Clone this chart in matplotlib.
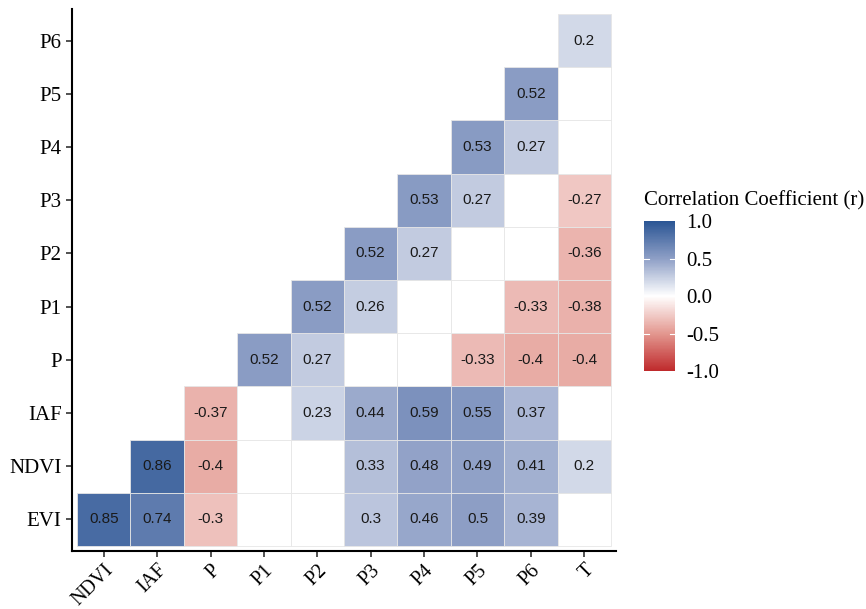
import matplotlib
matplotlib.use("Agg")
import matplotlib.pyplot as plt
from matplotlib.patches import Rectangle
from matplotlib.colors import LinearSegmentedColormap, Normalize
from matplotlib.colorbar import ColorbarBase

# variables on each axis
x_labels = ["NDVI", "IAF", "P", "P1", "P2", "P3", "P4", "P5", "P6", "T"]
y_labels = ["EVI", "NDVI", "IAF", "P", "P1", "P2", "P3", "P4", "P5", "P6"]

# significant r per row, starting at the diagonal (None = not significant)
r_evi = [0.85, 0.74, -0.3, None, None, 0.3, 0.46, 0.5, 0.39, None]
r_ndvi = [0.86, -0.4, None, None, 0.33, 0.48, 0.49, 0.41, 0.2]
r_iaf = [-0.37, None, 0.23, 0.44, 0.59, 0.55, 0.37, None]
r_p = [0.52, 0.27, None, None, -0.33, -0.4, -0.4]
r_p1 = [0.52, 0.26, None, None, -0.33, -0.38]
r_p2 = [0.52, 0.27, None, None, -0.36]
r_p3 = [0.53, 0.27, None, -0.27]
r_p4 = [0.53, 0.27, None]
r_p5 = [0.52, None]
r_p6 = [0.2]
rows = [r_evi, r_ndvi, r_iaf, r_p, r_p1, r_p2, r_p3, r_p4, r_p5, r_p6]

n = len(x_labels)
# red - white - blue, with in-between stops so the halves look like a Lab blend
cmap = LinearSegmentedColormap.from_list(
    "rwb", [(0.0, "#BF2A2C"), (0.25, "#E39890"), (0.5, "#FFFFFF"),
            (0.75, "#8E9FC6"), (1.0, "#2A5594")])
norm = Normalize(-1, 1)

fig = plt.figure(figsize=(8.66, 6.09), dpi=100)
ax = fig.add_axes([0.0831, 0.0952, 0.6282, 0.8900])

# tiles of the lower triangle; non-significant ones stay white
for i, row in enumerate(rows):
    for k, v in enumerate(row):
        x = i + k
        col = "white" if v is None else cmap(norm(v))
        ax.add_patch(Rectangle((x - 0.5, i - 0.5), 1, 1, facecolor=col,
                               edgecolor="#E6E6E6", linewidth=0.6))
        if v is not None:
            ax.text(x, i, f"{v:g}", ha="center", va="center",
                    fontsize=11, color="#1a1a1a", family="Liberation Sans")

pad = 0.095
ax.set_xlim(-0.5 - pad, n - 0.5 + pad)
ax.set_ylim(-0.5 - pad, n - 0.5 + pad)
ax.set_xticks(range(n))
ax.set_yticks(range(n))
ax.set_xticklabels(x_labels, rotation=45, ha="right", rotation_mode="anchor",
                   family="Liberation Serif", fontsize=14.5)
ax.set_yticklabels(y_labels, family="Liberation Serif", fontsize=15)
ax.tick_params(length=4, width=1.2, color="#333333")
ax.tick_params(axis="x", pad=3)
for s in ["top", "right"]:
    ax.spines[s].set_visible(False)
for s in ["left", "bottom"]:
    ax.spines[s].set_linewidth(1.5)

# legend bar
cax = fig.add_axes([0.7436, 0.3908, 0.0358, 0.2463])
cb = ColorbarBase(cax, cmap=cmap, norm=norm, ticks=[-1, -0.5, 0, 0.5, 1])
cb.outline.set_visible(False)
cb.ax.set_yticklabels(["-1.0", "-0.5", "0.0", "0.5", "1.0"],
                      family="Liberation Serif", fontsize=15)
cb.ax.tick_params(length=0, pad=8)
for t in [-0.5, 0, 0.5]:
    cax.plot([0, 0.15], [t, t], color="white", lw=0.8)
    cax.plot([0.85, 1], [t, t], color="white", lw=0.8)
fig.text(0.7436, 0.655, "Correlation Coefficient (r)", family="Liberation Serif",
         fontsize=15, va="bottom")

fig.savefig("out.png", dpi=100, facecolor="white")
